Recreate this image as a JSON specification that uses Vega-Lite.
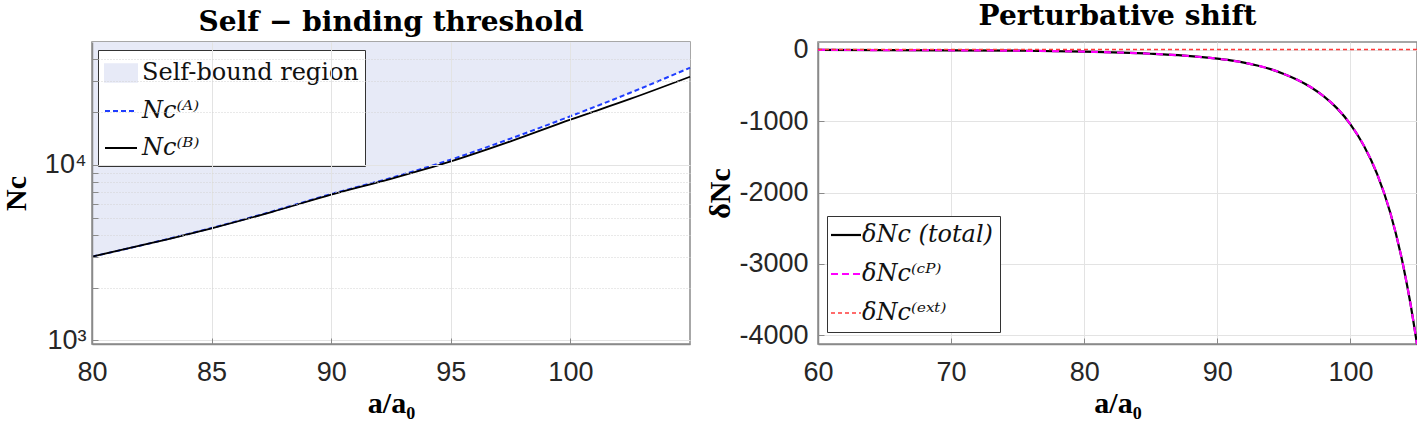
{
  "$schema": "https://vega.github.io/schema/vega-lite/v6.json",
  "padding": {"left": 0, "top": 2, "right": 0, "bottom": 0},
  "background": "white",
  "bounds": "flush",
  "spacing": 128,
  "datasets": {
    "threshold": [
      {"a": 80, "NA": 3000, "NB": 3000},
      {"a": 82.5, "NA": 3595, "NB": 3590},
      {"a": 85, "NA": 4370, "NB": 4350},
      {"a": 87.5, "NA": 5410, "NB": 5380},
      {"a": 90, "NA": 6820, "NB": 6760},
      {"a": 92.5, "NA": 8420, "NB": 8320},
      {"a": 95, "NA": 10700, "NB": 10450},
      {"a": 97.5, "NA": 14100, "NB": 13600},
      {"a": 100, "NA": 18900, "NB": 18070},
      {"a": 102.5, "NA": 25700, "NB": 23700},
      {"a": 105, "NA": 35700, "NB": 31700}
    ],
    "shift": [
      {"a": 60, "total": -1.5, "CP": -1.5, "ext": 5},
      {"a": 65, "total": -3, "CP": -3, "ext": 5},
      {"a": 70, "total": -6, "CP": -6, "ext": 5},
      {"a": 75, "total": -12, "CP": -12, "ext": 5},
      {"a": 80, "total": -25, "CP": -25, "ext": 5},
      {"a": 85, "total": -55, "CP": -55, "ext": 5},
      {"a": 87.5, "total": -81, "CP": -81, "ext": 5},
      {"a": 90, "total": -124, "CP": -124, "ext": 5},
      {"a": 91, "total": -148, "CP": -148, "ext": 5},
      {"a": 92, "total": -179, "CP": -179, "ext": 5},
      {"a": 93, "total": -219, "CP": -219, "ext": 5},
      {"a": 94, "total": -270, "CP": -270, "ext": 5},
      {"a": 95, "total": -337, "CP": -337, "ext": 5},
      {"a": 96, "total": -418, "CP": -418, "ext": 5},
      {"a": 97, "total": -520, "CP": -520, "ext": 5},
      {"a": 98, "total": -652, "CP": -652, "ext": 5},
      {"a": 99, "total": -820, "CP": -820, "ext": 5},
      {"a": 100, "total": -1043, "CP": -1043, "ext": 5},
      {"a": 101, "total": -1339, "CP": -1339, "ext": 5},
      {"a": 102, "total": -1737, "CP": -1737, "ext": 5},
      {"a": 103, "total": -2287, "CP": -2287, "ext": 5},
      {"a": 104, "total": -3056, "CP": -3056, "ext": 5},
      {"a": 104.5, "total": -3548, "CP": -3548, "ext": 5},
      {"a": 105, "total": -4124, "CP": -4124, "ext": 5}
    ]
  },
  "hconcat": [
    {
      "width": 598,
      "height": 302,
      "title": {"text": "Self − binding threshold"},
      "data": {"name": "threshold"},
      "encoding": {
        "x": {
          "field": "a",
          "type": "quantitative",
          "scale": {"domain": [80, 105], "nice": false},
          "axis": {"title": "a/a₀", "values": [80, 85, 90, 95, 100], "zindex": 1}
        }
      },
      "layer": [
        {
          "mark": {"type": "area", "interpolate": "monotone"},
          "encoding": {
            "y": {
              "field": "NA",
              "type": "quantitative",
              "scale": {"type": "log", "domain": [955, 50000], "nice": false},
              "axis": {
                "title": "Nc",
                "titlePadding": 13,
                "labelPadding": 12,
                "zindex": 1,
                "values": [1000, 2000, 3000, 4000, 5000, 6000, 7000, 8000, 9000, 10000, 20000, 30000, 40000],
                "labelExpr": "datum.value == 1000 ? '10³' : (datum.value == 10000 ? '10⁴' : '')",
                "gridDash": {"condition": {"test": "datum.value == 1000 || datum.value == 10000", "value": []}, "value": [1, 2]},
                "gridColor": {"condition": {"test": "datum.value == 1000 || datum.value == 10000", "value": "#e3e3e3"}, "value": "#d2d2d2"}
              }
            },
            "y2": {"datum": 50000},
            "color": {
              "datum": "Self-bound region",
              "type": "nominal",
              "scale": {
                "domain": ["Self-bound region", "Nc⁽ᴬ⁾", "Nc⁽ᴮ⁾"],
                "range": ["#e7eaf7", "#1f3dff", "#000000"]
              },
              "legend": {
                "title": null,
                "orient": "none",
                "legendX": 6,
                "legendY": 8,
                "fillColor": "white",
                "strokeColor": "#333333",
                "padding": 6,
                "symbolSize": 1024,
                "rowPadding": 8,
                "labelOffset": 4,
                "labelLimit": 400,
                "labelFont": "DejaVu Serif",
                "labelFontSize": 24,
                "labelColor": "#111111",
                "encode": {
                  "labels": {"update": {"fontStyle": {"signal": "datum.index == 0 ? 'normal' : 'italic'"}}},
                  "symbols": {
                    "update": {
                      "shape": {"signal": "datum.index == 0 ? 'M-1,-0.55L1,-0.55L1,0.55L-1,0.55Z' : 'stroke'"},
                      "fill": {"signal": "datum.index == 0 ? '#e7eaf7' : 'transparent'"},
                      "stroke": {"signal": "datum.index == 0 ? 'transparent' : (datum.index == 1 ? '#1f3dff' : '#000000')"},
                      "strokeDash": {"signal": "datum.index == 1 ? [5, 3] : []"},
                      "strokeWidth": {"value": 2},
                      "opacity": {"value": 1}
                    }
                  }
                }
              }
            }
          }
        },
        {
          "mark": {"type": "line", "interpolate": "monotone", "strokeWidth": 2, "strokeDash": [5, 3]},
          "encoding": {
            "y": {"field": "NA", "type": "quantitative"},
            "color": {"datum": "Nc⁽ᴬ⁾", "type": "nominal"}
          }
        },
        {
          "mark": {"type": "line", "interpolate": "monotone", "strokeWidth": 1.8},
          "encoding": {
            "y": {"field": "NB", "type": "quantitative"},
            "color": {"datum": "Nc⁽ᴮ⁾", "type": "nominal"}
          }
        }
      ]
    },
    {
      "width": 599,
      "height": 302,
      "title": {"text": "Perturbative shift"},
      "data": {"name": "shift"},
      "encoding": {
        "x": {
          "field": "a",
          "type": "quantitative",
          "scale": {"domain": [60, 105], "nice": false},
          "axis": {"title": "a/a₀", "values": [60, 70, 80, 90, 100]}
        }
      },
      "layer": [
        {
          "mark": {"type": "line", "interpolate": "monotone", "strokeWidth": 2.2},
          "encoding": {
            "y": {
              "field": "total",
              "type": "quantitative",
              "scale": {"domain": [-4122, 110], "nice": false, "zero": false},
              "axis": {
                "title": "δNc",
                "titlePadding": 3,
                "labelPadding": 16,
                "values": [0, -1000, -2000, -3000, -4000],
                "labelExpr": "datum.value + ''"
              }
            },
            "color": {
              "datum": "δNc (total)",
              "type": "nominal",
              "scale": {
                "domain": ["δNc (total)", "δNc⁽ᶜᴾ⁾", "δNc⁽ᵉˣᵗ⁾"],
                "range": ["#000000", "#ff00ff", "#ff3b3b"]
              },
              "legend": {
                "title": null,
                "orient": "none",
                "legendX": 9,
                "legendY": 174,
                "fillColor": "white",
                "strokeColor": "#333333",
                "padding": 7,
                "symbolSize": 900,
                "rowPadding": 15,
                "labelOffset": 4,
                "labelLimit": 400,
                "labelFont": "DejaVu Serif",
                "labelFontSize": 24,
                "labelFontStyle": "italic",
                "labelColor": "#111111",
                "encode": {
                  "symbols": {
                    "update": {
                      "shape": {"value": "stroke"},
                      "stroke": {"signal": "datum.index == 0 ? '#000000' : (datum.index == 1 ? '#ff00ff' : '#ff3b3b')"},
                      "strokeDash": {"signal": "datum.index == 0 ? [] : (datum.index == 1 ? [7, 4] : [4, 3])"},
                      "strokeWidth": {"signal": "datum.index == 2 ? 1.5 : 2.2"},
                      "opacity": {"value": 1}
                    }
                  }
                }
              }
            }
          }
        },
        {
          "mark": {"type": "line", "interpolate": "monotone", "strokeWidth": 2.2, "strokeDash": [7, 6]},
          "encoding": {
            "y": {"field": "CP", "type": "quantitative"},
            "color": {"datum": "δNc⁽ᶜᴾ⁾", "type": "nominal"}
          }
        },
        {
          "mark": {"type": "line", "strokeWidth": 1.5, "strokeDash": [4, 3]},
          "encoding": {
            "y": {"field": "ext", "type": "quantitative"},
            "color": {"datum": "δNc⁽ᵉˣᵗ⁾", "type": "nominal"}
          }
        }
      ]
    }
  ],
  "resolve": {"scale": {"color": "independent"}},
  "config": {
    "view": {"stroke": "#8a8a8a", "strokeWidth": 1.5},
    "title": {"font": "DejaVu Serif", "fontSize": 28, "fontWeight": "bold", "color": "#000000", "offset": 5},
    "axis": {
      "labelFont": "Liberation Sans",
      "labelFontSize": 27,
      "labelColor": "#262626",
      "labelPadding": 6,
      "titleFont": "Liberation Serif",
      "titleFontSize": 30,
      "titleFontWeight": "bold",
      "titleColor": "#000000",
      "titlePadding": 6,
      "domainColor": "#8a8a8a",
      "domainWidth": 1.5,
      "gridColor": "#e3e3e3",
      "gridWidth": 1,
      "tickColor": "#8a8a8a",
      "tickSize": -6,
      "labelFlush": false,
      "labelOverlap": false
    },
    "axisX": {"labelPadding": 21, "titlePadding": 3}
  }
}
